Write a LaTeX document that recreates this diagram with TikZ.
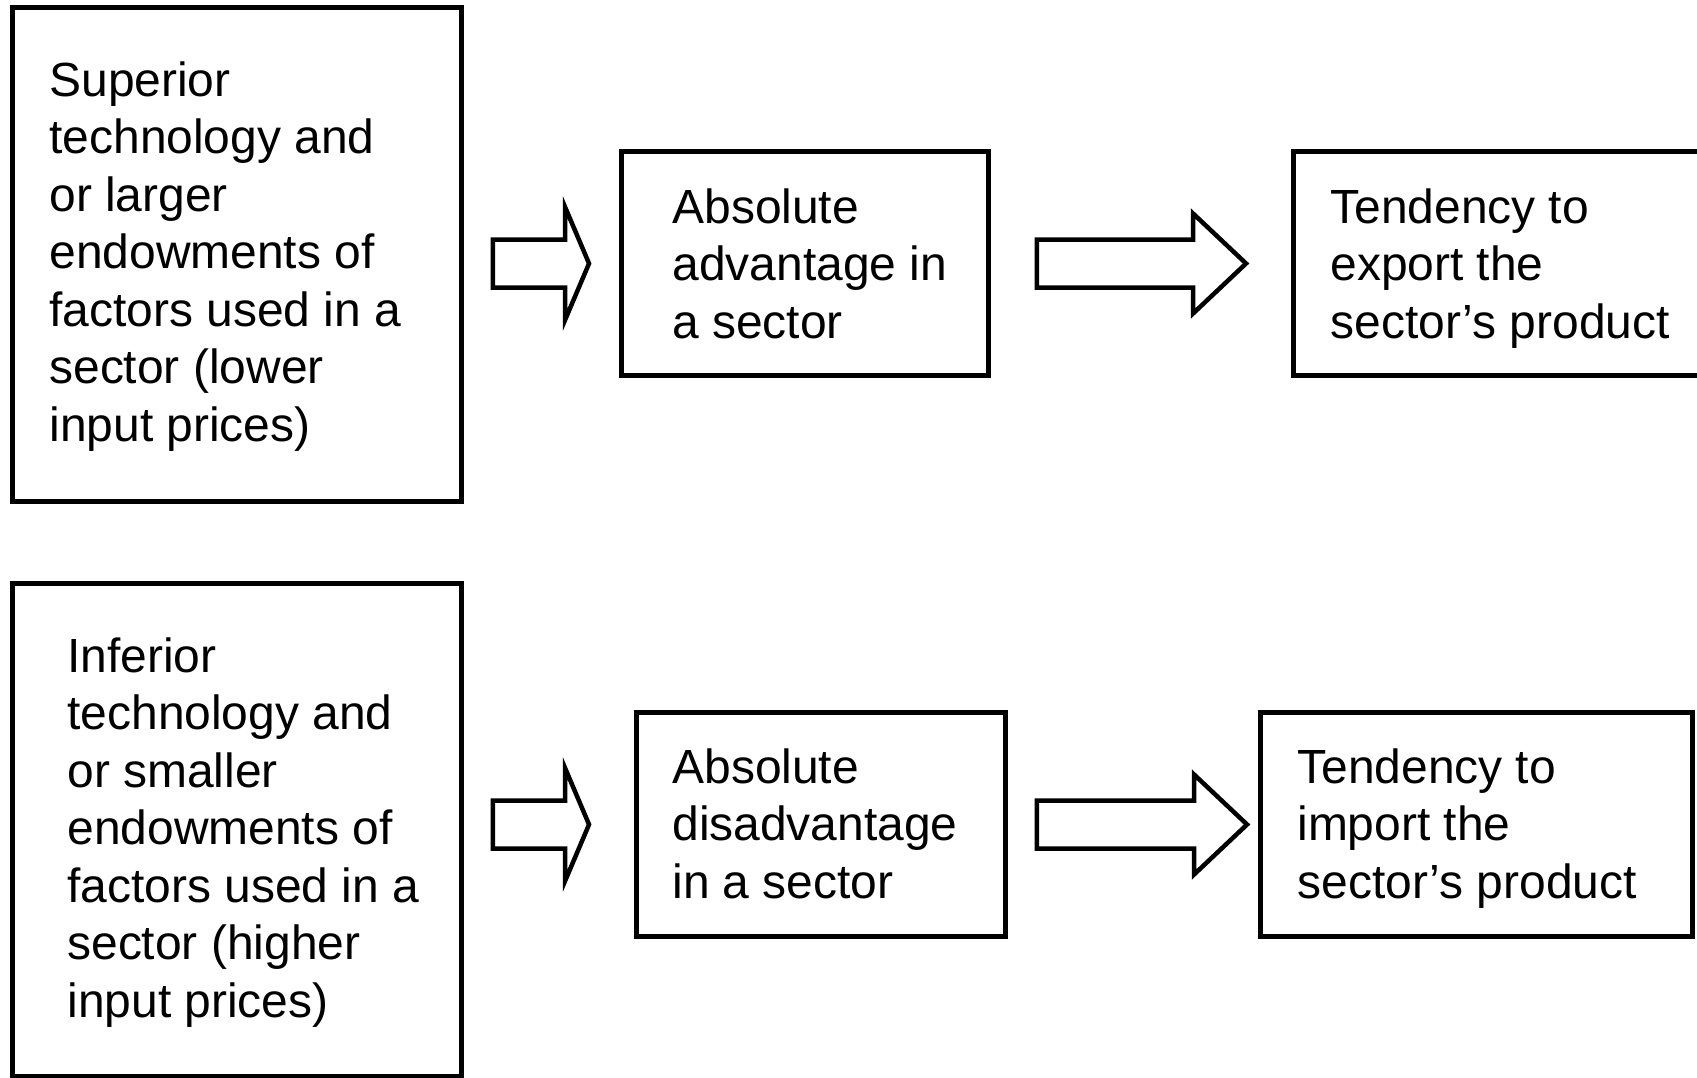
\documentclass[tikz,border=0pt]{standalone}
\usepackage{fontspec}
\setmainfont{Liberation Sans}
\usetikzlibrary{calc}

% hollow block arrow: tail, tip, head length, head half width
\newcommand{\hollowarrow}[4]{%
  \draw[arrowline] ($(#1)+(0,-24)$) -- ($(#2)+(-#3,-24)$) -- ($(#2)+(-#3,-#4)$)
    -- (#2) -- ($(#2)+(-#3,#4)$) -- ($(#2)+(-#3,24)$) -- ($(#1)+(0,24)$) -- cycle;}

\begin{document}
\begin{tikzpicture}[x=0.02cm, y=-0.02cm,
    box/.style={draw, line width=0.1cm, inner sep=0pt, outer sep=0pt},
    txt/.style={anchor=base west, align=left, inner sep=0pt,
      font=\fontsize{27.3pt}{32.7pt}\selectfont},
    arrowline/.style={draw, line width=0.09cm, line join=miter}]
  \useasboundingbox (0,0) rectangle (1697,1078);
  \clip (0,0) rectangle (1697,1078);
  % boxes
  \node[box, minimum width=8.99cm, minimum height=9.9cm] (a1) at (237.25,254.5) {};
  \node[box, minimum width=7.36cm, minimum height=4.5cm] (b1) at (805,263.5) {};
  \node[box, minimum width=8.54cm, minimum height=4.5cm] (c1) at (1506.5,263.5) {};
  \node[box, minimum width=8.99cm, minimum height=9.88cm] (a2) at (237.25,830) {};
  \node[box, minimum width=7.4cm, minimum height=4.5cm] (b2) at (821,824.5) {};
  \node[box, minimum width=8.66cm, minimum height=4.5cm] (c2) at (1476.5,824.5) {};
  % box texts (base = last line)
  \node[txt] (a1t) at (49,441) {Superior\\technology and\\or larger\\endowments of\\factors used in a\\sector (lower\\input prices)};
  \node[txt] (b1t) at (672,338) {Absolute\\advantage in\\a sector};
  \node[txt] (c1t) at (1330,338) {Tendency to\\export the\\sector’s product};
  \node[txt] (a2t) at (67,1017) {Inferior\\technology and\\or smaller\\endowments of\\factors used in a\\sector (higher\\input prices)};
  \node[txt] (b2t) at (672,898) {Absolute\\disadvantage\\in a sector};
  \node[txt] (c2t) at (1297,898) {Tendency to\\import the\\sector’s product};
  % arrow ends
  \coordinate (t1) at ($(a1.east |- b1.west)+(31,0)$);
  \coordinate (p1) at ($(b1.west)+(-32,0)$);
  \coordinate (t2) at ($(b1.east)+(48,0)$);
  \coordinate (p2) at ($(c1.west)+(-47,0)$);
  \coordinate (t3) at ($(a2.east |- b2.west)+(31,0)$);
  \coordinate (p3) at ($(b2.west)+(-47,0)$);
  \coordinate (t4) at ($(b2.east)+(31,0)$);
  \coordinate (p4) at ($(c2.west)+(-13,0)$);
  % arrows
  \hollowarrow{t1}{p1}{24}{56.5}
  \hollowarrow{t2}{p2}{53}{50}
  \hollowarrow{t3}{p3}{24}{56.5}
  \hollowarrow{t4}{p4}{53}{50}
\end{tikzpicture}
\end{document}
